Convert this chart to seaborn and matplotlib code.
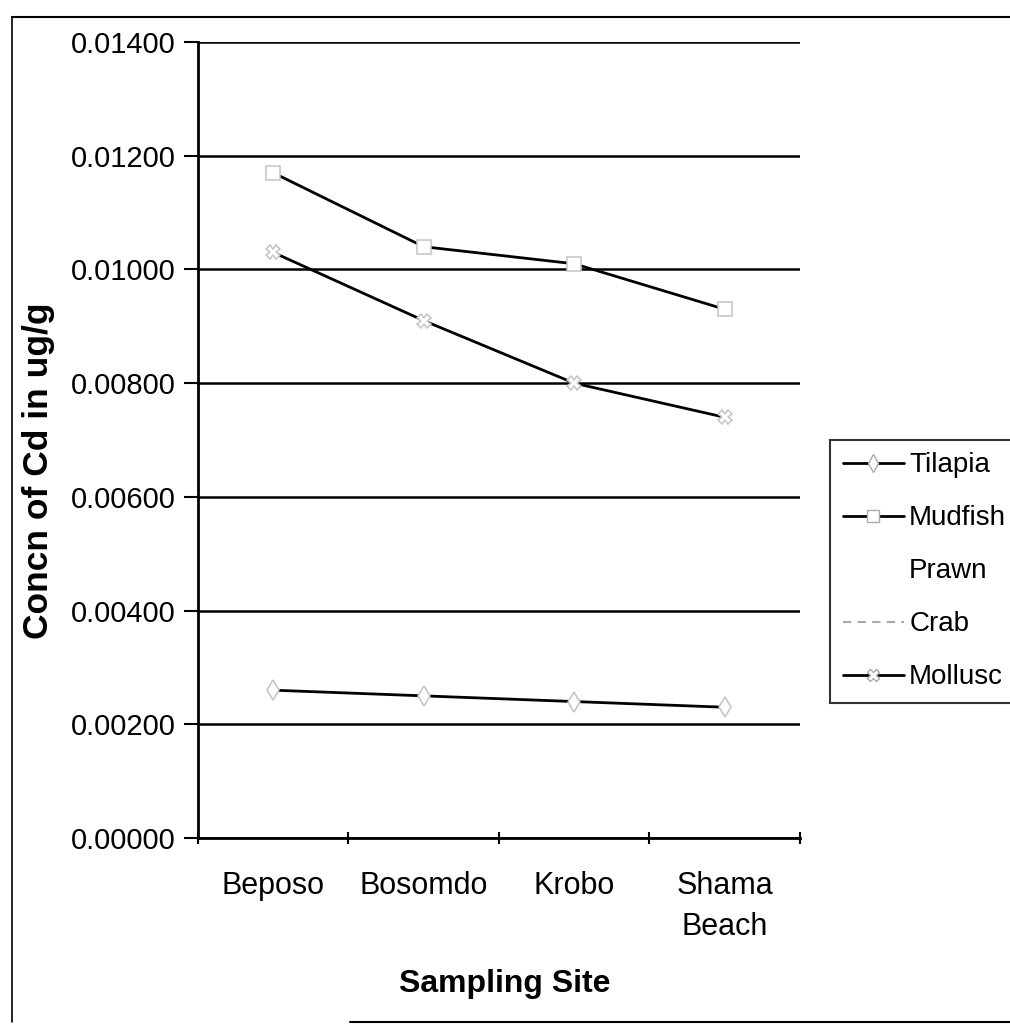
import matplotlib
matplotlib.use("Agg")
import matplotlib.pyplot as plt
from matplotlib.lines import Line2D
import seaborn as sns
import pandas as pd

# Cadmium concentration (ug/g) per sampling site
sites = ["Beposo", "Bosomdo", "Krobo", "Shama\nBeach"]
tilapia = [0.0026, 0.0025, 0.0024, 0.0023]
mudfish = [0.0117, 0.0104, 0.0101, 0.0093]
mollusc = [0.0103, 0.0091, 0.0080, 0.0074]
legend_names = ["Tilapia", "Mudfish", "Prawn", "Crab", "Mollusc"]
y_ticks = [0.0, 0.002, 0.004, 0.006, 0.008, 0.010, 0.012, 0.014]

sns.set_theme(style="white")
plt.rcParams["font.family"] = ["Liberation Sans", "DejaVu Sans"]
plt.rcParams["text.color"] = "black"
plt.rcParams["axes.labelcolor"] = "black"
plt.rcParams["xtick.color"] = "black"
plt.rcParams["ytick.color"] = "black"

df = pd.DataFrame({
    "Site": sites * 3,
    "Species": ["Tilapia"] * 4 + ["Mudfish"] * 4 + ["Mollusc"] * 4,
    "Concn": tilapia + mudfish + mollusc,
})

fig = plt.figure(figsize=(10.1, 10.3), dpi=100)
ax = fig.add_axes([0.196, 0.1864, 0.596, 0.7728])

markers = {"Tilapia": "d", "Mudfish": "s", "Mollusc": "X"}
sns.lineplot(data=df, x="Site", y="Concn", hue="Species", style="Species",
             markers=markers, dashes=False, sort=False,
             palette={"Tilapia": "black", "Mudfish": "black", "Mollusc": "black"},
             linewidth=2.0, markersize=10, markerfacecolor="white",
             markeredgecolor="#c4c4c4", markeredgewidth=1.1,
             legend=False, ax=ax)

ax.set_xlim(-0.5, 3.5)
ax.set_ylim(0, 0.014)
ax.set_yticks(y_ticks)
ax.set_yticklabels([f"{v:.5f}" for v in y_ticks], fontsize=21)
ax.yaxis.grid(True, color="black", linewidth=1.8)
ax.xaxis.grid(False)
ax.set_axisbelow(True)

ax.set_xticks(range(len(sites)))
ax.set_xticklabels(sites, fontsize=22, linespacing=1.45)
ax.tick_params(axis="x", length=0, pad=24)
ax.set_xticks([-0.5, 0.5, 1.5, 2.5, 3.5], minor=True)
ax.tick_params(axis="x", which="minor", length=8, width=1.5, color="black",
               direction="inout", bottom=True)
ax.tick_params(axis="y", length=10, width=1.5, color="black", direction="out",
               left=True, pad=6)

for side in ["top", "right"]:
    ax.spines[side].set_visible(False)
ax.spines["left"].set_color("black")
ax.spines["left"].set_linewidth(2)
ax.spines["bottom"].set_color("black")
ax.spines["bottom"].set_linewidth(2)

ax.set_xlabel("Sampling Site", fontsize=23, fontweight="bold")
ax.xaxis.set_label_coords(0.51, -0.165)
ax.set_ylabel("Concn of Cd in ug/g", fontsize=25.5, fontweight="bold")
ax.yaxis.set_label_coords(-0.238, 0.462)

handles = [
    Line2D([], [], color="black", lw=2, marker="d", markersize=9,
           markerfacecolor="white", markeredgecolor="#aaaaaa"),
    Line2D([], [], color="black", lw=2, marker="s", markersize=9,
           markerfacecolor="white", markeredgecolor="#aaaaaa"),
    Line2D([], [], color="white", lw=2),
    Line2D([], [], color="#aaaaaa", lw=1.5, ls=(0, (4, 3))),
    Line2D([], [], color="black", lw=2, marker="X", markersize=9,
           markerfacecolor="white", markeredgecolor="#aaaaaa"),
]
leg = fig.legend(handles, legend_names, loc="upper left",
                 bbox_to_anchor=(830 / 1010, 1 - 440 / 1030),
                 frameon=True, fancybox=False, edgecolor="black",
                 prop={"size": 20},
                 handlelength=2.2, handletextpad=0.2, labelspacing=0.97,
                 borderpad=0.45, borderaxespad=0)
leg.get_frame().set_linewidth(1.5)

# outer chart border
fig.add_artist(Line2D([12 / 1010, 12 / 1010], [1 - 17 / 1030, 1 - 1022 / 1030],
                      transform=fig.transFigure, color="black", lw=1.2))
fig.add_artist(Line2D([12 / 1010, 1.0], [1 - 17 / 1030, 1 - 17 / 1030],
                      transform=fig.transFigure, color="black", lw=1.5))
fig.add_artist(Line2D([350 / 1010, 1.0], [1 - 1022 / 1030, 1 - 1022 / 1030],
                      transform=fig.transFigure, color="black", lw=1.5))

fig.savefig("out.png", dpi=100, facecolor="white")
